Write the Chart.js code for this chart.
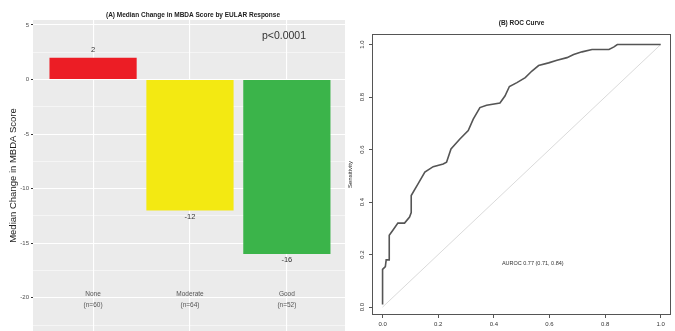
<!DOCTYPE html>
<html>
<head>
<meta charset="utf-8">
<script src="https://cdn.jsdelivr.net/npm/chart.js@4"></script>
<style>
  html, body { margin: 0; padding: 0; background: #fff; }
  #wrap { position: relative; width: 675px; height: 331px; overflow: hidden; }
  #boxA { position: absolute; left: 0; top: 0; width: 345px; height: 331px; }
  #boxB { position: absolute; left: 345px; top: 0; width: 330px; height: 331px; }
</style>
</head>
<body>
<div id="wrap">
  <div id="boxA"><canvas id="medianChart"></canvas></div>
  <div id="boxB"><canvas id="rocChart"></canvas></div>
</div>
<script>
// panel A: median change by EULAR response
const categories = ['None', 'Moderate', 'Good'];
const groupSizes = ['(n=60)', '(n=64)', '(n=52)'];
const medianChange = [2, -12, -16];
const barColors = ['#EC1D25', '#F3E912', '#3BB44A'];
const yTicksA = [5, 2.5, 0, -2.5, -5, -7.5, -10, -12.5, -15, -17.5, -20, -22.5];

// panel B: ROC curve (false positive rate vs sensitivity)
const fpr = [0, 0, 0.01, 0.013, 0.024, 0.024, 0.037, 0.055, 0.079, 0.097, 0.103, 0.103,
  0.128, 0.152, 0.182, 0.218, 0.23, 0.246, 0.278, 0.308, 0.326, 0.35, 0.374, 0.422,
  0.44, 0.456, 0.483, 0.513, 0.537, 0.561, 0.597, 0.627, 0.663, 0.687, 0.717, 0.753,
  0.814, 0.832, 0.844, 1.0];
const tpr = [0.01, 0.144, 0.154, 0.18, 0.18, 0.274, 0.293, 0.32, 0.32, 0.343, 0.36, 0.425,
  0.47, 0.514, 0.535, 0.545, 0.552, 0.602, 0.64, 0.672, 0.716, 0.76, 0.769, 0.777,
  0.804, 0.84, 0.855, 0.874, 0.899, 0.92, 0.93, 0.94, 0.95, 0.962, 0.972, 0.981,
  0.981, 0.991, 1.0, 1.0];
const rocTicks = [0, 0.2, 0.4, 0.6, 0.8, 1.0];
const aurocText = 'AUROC 0.77 (0.71, 0.84)';

const FONT = 'Liberation Sans, Arial, sans-serif';

// keep label overflow from shrinking the plot area
function noPad(s) {
    s.paddingLeft = 0;
    s.paddingRight = 0;
    s.paddingTop = 0;
    s.paddingBottom = 0;
}

const panelA = {
    id: 'panelA',
    beforeDraw(chart) {
        const { ctx, chartArea: a } = chart;
        ctx.save();
        ctx.fillStyle = '#EBEBEB';
        ctx.fillRect(a.left, a.top, a.right - a.left, a.bottom - a.top);
        ctx.restore();
    },
    afterDatasetsDraw(chart) {
        const { ctx, chartArea: a, scales: { x, y } } = chart;
        const bars = chart.getDatasetMeta(0).data;
        ctx.save();
        ctx.textAlign = 'center';
        ctx.textBaseline = 'middle';

        ctx.fillStyle = '#222';
        ctx.font = 'bold 6.5px ' + FONT;
        ctx.fillText('(A) Median Change in MBDA Score by EULAR Response', (a.left + a.right) / 2 + 4, 15);

        ctx.font = '7.5px ' + FONT;
        ctx.fillStyle = '#333';
        bars.forEach((bar, i) => {
            const v = medianChange[i];
            ctx.fillText(String(v), bar.x, v >= 0 ? bar.y - 8 : bar.y + 6);
        });

        ctx.font = '10.5px ' + FONT;
        ctx.fillText('p<0.0001', x.getPixelForValue(2.97), y.getPixelForValue(4));

        ctx.font = '6.5px ' + FONT;
        ctx.fillStyle = '#555';
        categories.forEach((c, i) => {
            const px = x.getPixelForValue(i + 1);
            ctx.fillText(c, px, y.getPixelForValue(-19.7));
            ctx.fillText(groupSizes[i], px, y.getPixelForValue(-20.7));
        });
        ctx.restore();
    }
};

new Chart(document.getElementById('medianChart'), {
    type: 'bar',
    data: {
        datasets: [{
            data: medianChange.map((v, i) => ({ x: i + 1, y: v })),
            backgroundColor: barColors,
            borderWidth: 0,
            barPercentage: 0.9,
            categoryPercentage: 1
        }]
    },
    options: {
        responsive: true,
        maintainAspectRatio: false,
        animation: false,
        layout: { padding: { top: 20, left: 0, right: 0, bottom: 0 } },
        plugins: { legend: { display: false }, tooltip: { enabled: false } },
        scales: {
            x: {
                type: 'linear',
                offset: false,
                min: 0.38,
                max: 3.6,
                afterBuildTicks: s => { s.ticks = categories.map((c, i) => ({ value: i + 1 })); },
                afterFit: s => { s.height = 0; noPad(s); },
                ticks: { display: false },
                grid: { offset: false, color: '#FFFFFF', lineWidth: 1.1, drawTicks: false },
                border: { display: false }
            },
            y: {
                min: -23.05,
                max: 5.46,
                afterBuildTicks: s => { s.ticks = yTicksA.map(v => ({ value: v })); },
                afterFit: s => { s.width = 33; noPad(s); },
                ticks: {
                    autoSkip: false,
                    padding: 2,
                    color: '#4D4D4D',
                    font: { family: FONT, size: 6 },
                    callback: v => (v % 5 === 0 ? String(v) : '')
                },
                grid: {
                    color: '#FFFFFF',
                    lineWidth: ctx => (ctx.tick && ctx.tick.value % 5 === 0 ? 1.1 : 0.5),
                    tickColor: ctx => (ctx.tick && ctx.tick.value % 5 === 0 ? '#333' : 'rgba(0,0,0,0)'),
                    tickLength: 2
                },
                border: { display: false },
                title: {
                    display: true,
                    text: 'Median Change in MBDA Score',
                    color: '#222',
                    font: { family: FONT, size: 9.5 },
                    padding: { top: 8, bottom: 0 }
                }
            }
        }
    },
    plugins: [panelA]
});

const panelB = {
    id: 'panelB',
    afterDatasetsDraw(chart) {
        const { ctx, chartArea: a, scales: { x, y } } = chart;
        ctx.save();
        ctx.strokeStyle = '#555';
        ctx.lineWidth = 1;
        ctx.strokeRect(a.left + 0.5, a.top + 0.5, a.right - a.left - 1, a.bottom - a.top - 1);
        ctx.textAlign = 'center';
        ctx.textBaseline = 'middle';
        ctx.fillStyle = '#222';
        ctx.font = 'bold 6.5px ' + FONT;
        ctx.fillText('(B) ROC Curve', (a.left + a.right) / 2, 23);
        ctx.font = '5.5px ' + FONT;
        ctx.fillStyle = '#333';
        ctx.fillText(aurocText, x.getPixelForValue(0.54), y.getPixelForValue(0.165));
        ctx.restore();
    }
};

new Chart(document.getElementById('rocChart'), {
    type: 'scatter',
    data: {
        datasets: [
            {
                data: fpr.map((v, i) => ({ x: v, y: tpr[i] })),
                showLine: true,
                borderColor: '#555',
                borderWidth: 1.6,
                pointRadius: 0,
                tension: 0
            },
            {
                data: [{ x: 0, y: 0 }, { x: 1, y: 1 }],
                showLine: true,
                borderColor: '#D0D0D0',
                borderWidth: 0.8,
                pointRadius: 0
            }
        ]
    },
    options: {
        responsive: true,
        maintainAspectRatio: false,
        animation: false,
        layout: { padding: { top: 34, left: 0, right: 4, bottom: 0 } },
        plugins: { legend: { display: false }, tooltip: { enabled: false } },
        scales: {
            x: {
                type: 'linear',
                min: -0.038,
                max: 1.037,
                afterBuildTicks: s => { s.ticks = rocTicks.map(v => ({ value: v })); },
                afterFit: s => { s.height = 16; noPad(s); },
                ticks: {
                    autoSkip: false,
                    maxRotation: 0,
                    padding: 3,
                    color: '#333',
                    font: { family: FONT, size: 6 },
                    callback: v => v.toFixed(1)
                },
                grid: { drawOnChartArea: false, tickLength: 3, tickColor: '#555' },
                border: { display: false }
            },
            y: {
                type: 'linear',
                min: -0.03,
                max: 1.04,
                afterBuildTicks: s => { s.ticks = rocTicks.map(v => ({ value: v })); },
                afterFit: s => { s.width = 27; noPad(s); },
                ticks: {
                    autoSkip: false,
                    minRotation: 90,
                    maxRotation: 90,
                    crossAlign: 'center',
                    padding: 2,
                    color: '#333',
                    font: { family: FONT, size: 6 },
                    callback: v => v.toFixed(1)
                },
                grid: { drawOnChartArea: false, tickLength: 3, tickColor: '#555' },
                border: { display: false },
                title: {
                    display: true,
                    text: 'Sensitivity',
                    color: '#222',
                    font: { family: FONT, size: 6 },
                    padding: { top: 1.5, bottom: 0 }
                }
            }
        }
    },
    plugins: [panelB]
});
</script>
</body>
</html>
